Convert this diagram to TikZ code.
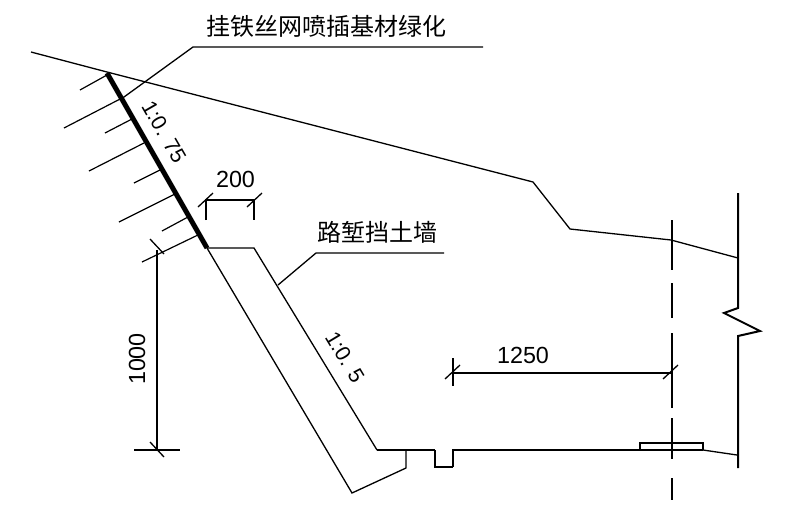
\documentclass[tikz,border=0pt]{standalone}
\usepackage{fontspec}
\setmainfont{Liberation Sans}
\newfontfamily\cjk{Noto Sans CJK SC}
\tikzset{
  px/.style={x=0.75pt,y=-0.75pt},
  ln/.style={line width=1.3pt*0.75,line join=miter,black},
  dim/.style={line width=2pt*0.75,black},
  hatch/.style={line width=1.2pt*0.75,black},
  heavy/.style={line width=5pt*0.75,black},
  num/.style={inner sep=0pt,font=\fontsize{17.5pt}{20pt}\selectfont},
  slope/.style={inner sep=0pt,font=\fontsize{16pt}{18pt}\selectfont},
  cn/.style={inner sep=0pt,font=\cjk\fontsize{18pt}{20pt}\selectfont}
}
\begin{document}
\begin{tikzpicture}[px]
\useasboundingbox[fill=white] (0,0) rectangle (799,507);
% ground
\draw[ln] (31,52) -- (107,72) -- (533,182) -- (570,229) -- (671,240) -- (738,258);
% hatching
\foreach \a/\b/\c/\d in {107/75/80/90,124/97/64/128,132/119/105/133,144/143/89/171,162/169/134/183,175/194/119/222,188/217/162/231,200/234/142/262}
  \draw[hatch] (\a,\b) -- (\c,\d);
% thick slope
\draw[heavy] (107,73) -- (207,248);
% leaders
\draw[ln] (124,97) -- (193,47) -- (483,47);
\draw[ln] (278,285) -- (316,253) -- (444,253);
% wall
\draw[ln] (207,248) -- (254,248) -- (377,450);
\draw[dim] (377,450) -- (435,450);
\draw[ln] (435,450) -- (435,467) -- (453,467);
\draw[dim] (453,467) -- (453,450) -- (703,450);
\draw[ln] (703,450) -- (737,455);
\draw[ln] (207,248) -- (352,493) -- (406,468) -- (406,450);
% plate
\draw[ln] (640,450) -- (640,443) -- (703,443) -- (703,450);
% centre line
\draw[dim] (672,220) -- (672,248);
\draw[ln] (672,248) -- (672,270);
\draw[dim] (672,283) -- (672,318) (672,333) -- (672,408) (672,418) -- (672,459);
\draw[ln] (672,478) -- (672,500);
% right line
\draw[dim] (738,193) -- (738,308) -- (724,313) -- (760,331) -- (738,336) -- (738,468);
% dim 200
\draw[dim] (206,220) -- (206,200) -- (254,200) -- (254,220);
\draw[ln] (198,207) -- (213,193) (247,207) -- (262,193);
% dim 1000
\draw[dim] (157,250) -- (157,450);
\draw[dim] (134,450) -- (180,450);
\draw[ln] (150,239) -- (164,254) (150,442) -- (164,457);
% dim 1250
\draw[dim] (453,373) -- (672,373);
\draw[dim] (453,358) -- (453,386);
\draw[ln] (445,379) -- (460,365) (663,379) -- (678,365);
% text
\node[cn] (t1) at (326,26) {挂铁丝网喷插基材绿化};
\node[cn] (t2) at (377,232) {路堑挡土墙};
\node[num] (n200) at (235.5,179) {200};
\node[num] (n1250) at (523,355) {1250};
\node[num,rotate=90] (n1000) at (137,359) {1000};
\node[slope,rotate=-60] (s1) at (164,132) {1:0. 75};
\node[slope,rotate=-59] (s2) at (345,357) {1:0. 5};
\end{tikzpicture}
\end{document}
